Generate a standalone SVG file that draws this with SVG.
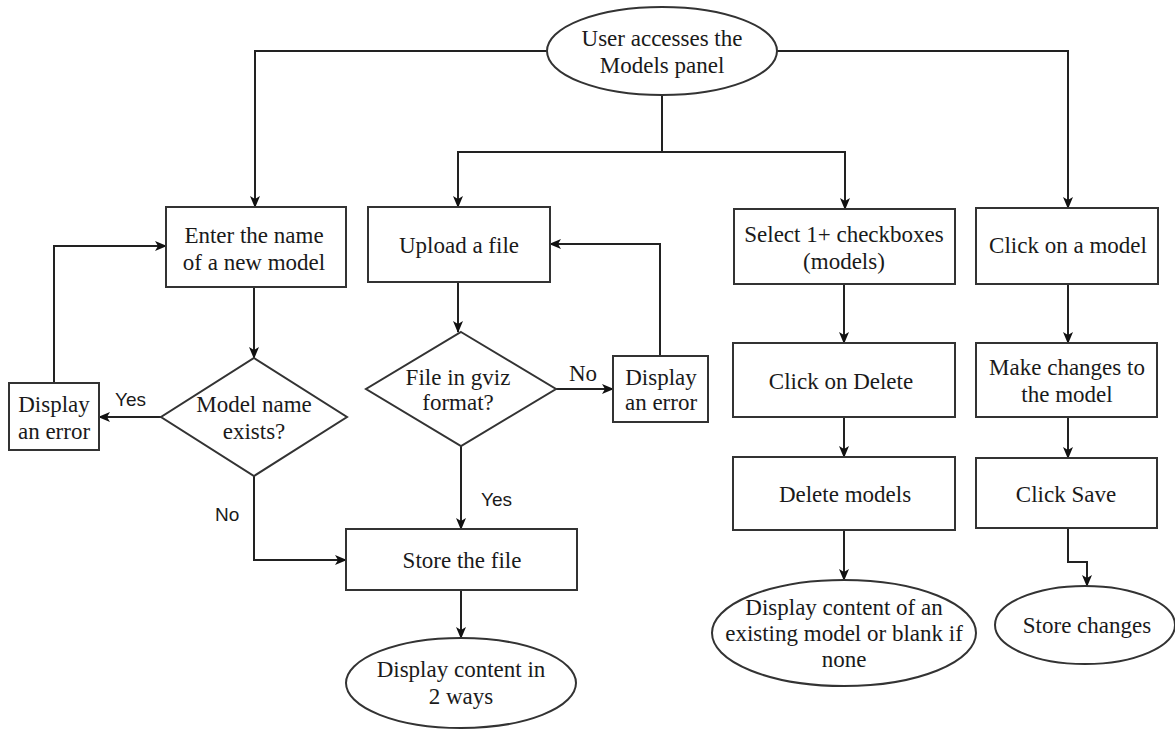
<svg xmlns="http://www.w3.org/2000/svg" width="1175" height="729" viewBox="0 0 1175 729">
  <style>
    .shape { fill: #ffffff; stroke: #333333; stroke-width: 2; }
    .edge { fill: none; stroke: #222222; stroke-width: 2; }
    .label { font-family: "Liberation Serif", "Times New Roman", serif; font-size: 23px; fill: #1a1a1a; text-anchor: middle; }
    .cond { font-family: "Liberation Sans", Arial, sans-serif; font-size: 19px; fill: #1a1a1a; }
    .condSerif { font-family: "Liberation Serif", "Times New Roman", serif; font-size: 23px; fill: #1a1a1a; }
  </style>
  <defs>
    <marker id="arrow" viewBox="0 0 12 12" refX="11" refY="6" markerWidth="12" markerHeight="12" markerUnits="userSpaceOnUse" orient="auto">
      <path d="M0,1 L12,6 L0,11 L3,6 Z" fill="#111111"/>
    </marker>
  </defs>
  <rect width="1175" height="729" fill="#ffffff"/>

  <!-- connectors -->
  <g id="connectors">
    <path class="edge" d="M547,51 H255 V207" marker-end="url(#arrow)"/>
    <path class="edge" d="M777,51 H1068 V208" marker-end="url(#arrow)"/>
    <path class="edge" d="M662,95 V152 H458 V207" marker-end="url(#arrow)"/>
    <path class="edge" d="M662,152 H845 V209" marker-end="url(#arrow)"/>
    <!-- left branch -->
    <path class="edge" d="M254,287 V358" marker-end="url(#arrow)"/>
    <path class="edge" d="M161,417 H99" marker-end="url(#arrow)"/>
    <path class="edge" d="M54,383 V246 H166" marker-end="url(#arrow)"/>
    <path class="edge" d="M254,476 V560 H346" marker-end="url(#arrow)"/>
    <!-- upload branch -->
    <path class="edge" d="M458,282 V332" marker-end="url(#arrow)"/>
    <path class="edge" d="M556,389 H613" marker-end="url(#arrow)"/>
    <path class="edge" d="M660,356 V244 H550" marker-end="url(#arrow)"/>
    <path class="edge" d="M461,446 V529" marker-end="url(#arrow)"/>
    <path class="edge" d="M461,590 V638" marker-end="url(#arrow)"/>
    <!-- delete branch -->
    <path class="edge" d="M844,284 V343" marker-end="url(#arrow)"/>
    <path class="edge" d="M844,417 V457" marker-end="url(#arrow)"/>
    <path class="edge" d="M844,530 V580" marker-end="url(#arrow)"/>
    <!-- edit branch -->
    <path class="edge" d="M1068,284 V343" marker-end="url(#arrow)"/>
    <path class="edge" d="M1068,417 V458" marker-end="url(#arrow)"/>
    <path class="edge" d="M1068,528 V562 H1087 V586" marker-end="url(#arrow)"/>
    <!-- branch labels -->
    <text class="cond" x="115" y="406">Yes</text>
    <text class="cond" x="215" y="521">No</text>
    <text class="condSerif" x="569" y="381">No</text>
    <text class="cond" x="481" y="506">Yes</text>
  </g>

  <g id="start">
    <ellipse class="shape" cx="662" cy="51" rx="115" ry="44"/>
    <text class="label" x="662" y="46">User accesses the</text>
    <text class="label" x="662" y="73">Models panel</text>
  </g>

  <g id="enter-name">
    <rect class="shape" x="166" y="207" width="180" height="80"/>
    <text class="label" x="254" y="243">Enter the name</text>
    <text class="label" x="254" y="270">of a new model</text>
  </g>

  <g id="name-exists">
    <polygon class="shape" points="254,358 347,417 254,476 161,417"/>
    <text class="label" x="254" y="412">Model name</text>
    <text class="label" x="254" y="439">exists?</text>
  </g>

  <g id="name-error">
    <rect class="shape" x="9" y="383" width="90" height="67"/>
    <text class="label" x="54" y="412">Display</text>
    <text class="label" x="54" y="439">an error</text>
  </g>

  <g id="upload">
    <rect class="shape" x="368" y="207" width="182" height="75"/>
    <text class="label" x="459" y="253">Upload a file</text>
  </g>

  <g id="gviz-check">
    <polygon class="shape" points="461,332 556,389 461,446 366,389"/>
    <text class="label" x="458" y="385">File in gviz</text>
    <text class="label" x="458" y="410">format?</text>
  </g>

  <g id="gviz-error">
    <rect class="shape" x="613" y="356" width="95" height="66"/>
    <text class="label" x="661" y="385">Display</text>
    <text class="label" x="661" y="410">an error</text>
  </g>

  <g id="store-file">
    <rect class="shape" x="346" y="529" width="231" height="61"/>
    <text class="label" x="462" y="568">Store the file</text>
  </g>

  <g id="display-two-ways">
    <ellipse class="shape" cx="461" cy="683" rx="115" ry="45"/>
    <text class="label" x="461" y="677">Display content in</text>
    <text class="label" x="461" y="704">2 ways</text>
  </g>

  <g id="select-checkboxes">
    <rect class="shape" x="734" y="209" width="221" height="75"/>
    <text class="label" x="844" y="242">Select 1+ checkboxes</text>
    <text class="label" x="844" y="269">(models)</text>
  </g>

  <g id="click-delete">
    <rect class="shape" x="733" y="343" width="222" height="74"/>
    <text class="label" x="841" y="389">Click on Delete</text>
  </g>

  <g id="delete-models">
    <rect class="shape" x="733" y="457" width="222" height="73"/>
    <text class="label" x="845" y="502">Delete models</text>
  </g>

  <g id="display-existing">
    <ellipse class="shape" cx="844" cy="633" rx="132" ry="53"/>
    <text class="label" x="844" y="615">Display content of an</text>
    <text class="label" x="844" y="641">existing model or blank if</text>
    <text class="label" x="844" y="667">none</text>
  </g>

  <g id="click-model">
    <rect class="shape" x="976" y="208" width="182" height="76"/>
    <text class="label" x="1068" y="253">Click on a model</text>
  </g>

  <g id="make-changes">
    <rect class="shape" x="976" y="343" width="181" height="74"/>
    <text class="label" x="1067" y="375">Make changes to</text>
    <text class="label" x="1067" y="402">the model</text>
  </g>

  <g id="click-save">
    <rect class="shape" x="976" y="458" width="181" height="70"/>
    <text class="label" x="1066" y="502">Click Save</text>
  </g>

  <g id="store-changes">
    <ellipse class="shape" cx="1085" cy="625" rx="90" ry="39"/>
    <text class="label" x="1087" y="633">Store changes</text>
  </g>
</svg>
